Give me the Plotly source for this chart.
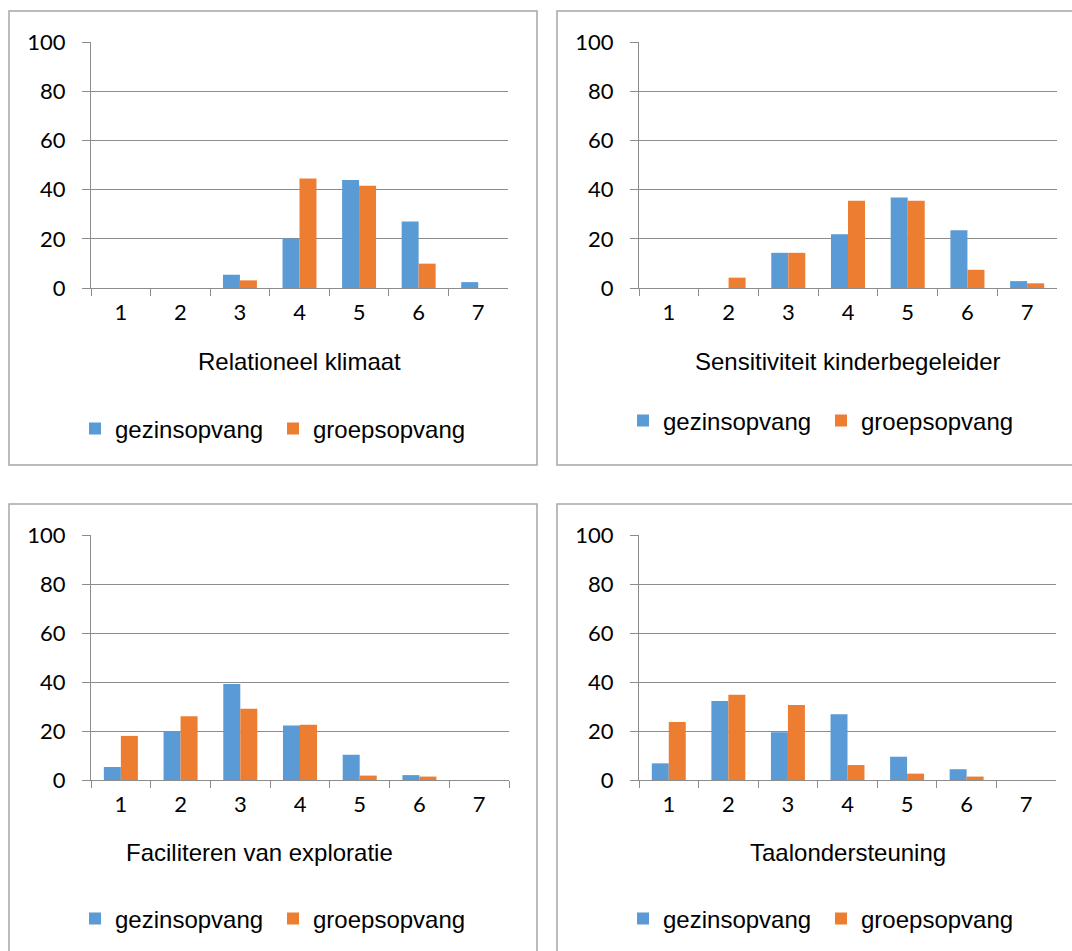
import plotly.graph_objects as go

# ---------------- data ----------------
categories = ["1", "2", "3", "4", "5", "6", "7"]
series_names = ["gezinsopvang", "groepsopvang"]
axis_titles = ["Relationeel klimaat", "Sensitiviteit kinderbegeleider",
               "Faciliteren van exploratie", "Taalondersteuning"]
y_ticks = [0, 20, 40, 60, 80, 100]

rel_gezin = [0, 0, 5.4, 20.1, 43.9, 27.0, 2.4]
rel_groep = [0, 0, 3.1, 44.5, 41.6, 9.9, 0]
sens_gezin = [0, 0, 14.3, 21.8, 36.8, 23.5, 2.8]
sens_groep = [0, 4.2, 14.3, 35.5, 35.5, 7.4, 1.9]
fac_gezin = [5.3, 20.0, 39.2, 22.2, 10.3, 2.0, 0]
fac_groep = [18.0, 26.0, 29.1, 22.6, 1.8, 1.4, 0]
taal_gezin = [6.8, 32.2, 19.5, 26.8, 9.5, 4.4, 0]
taal_groep = [23.7, 34.8, 30.6, 6.1, 2.6, 1.4, 0]

panel_values = [(rel_gezin, rel_groep), (sens_gezin, sens_groep),
                (fac_gezin, fac_groep), (taal_gezin, taal_groep)]

# ---------------- style / layout ----------------
W, H = 1072, 951
colors = ["#5B9BD5", "#ED7D31"]
grid = "#8C8C8C"
box_col = "#A6A6A6"
num_font = dict(family="Lato, sans-serif", size=22, color="#000000")
txt_font = dict(family="Liberation Sans, Arial, sans-serif", size=24, color="#000000")

panels = [
    dict(box=(9, 11, 537, 465), plot=(91, 508, 42, 288), title_y=361, title_x=0.5, leg_y=429, leg_x=75),
    dict(box=(557, 11, 1090, 465), plot=(639, 1057, 42, 288), title_y=361, title_x=0.5, leg_y=421, leg_x=623),
    dict(box=(9, 504, 537, 970), plot=(91, 509, 535, 780), title_y=852, title_x=0.403, leg_y=919, leg_x=75),
    dict(box=(557, 504, 1090, 970), plot=(639, 1056, 535, 780), title_y=852, title_x=0.5, leg_y=919, leg_x=623),
]

def px(x):
    return x / W

def py(y):
    return 1 - y / H

fig = go.Figure()
layout = dict(width=W, height=H, margin=dict(l=0, r=0, t=0, b=0, autoexpand=False),
              paper_bgcolor="white", plot_bgcolor="white",
              barmode="group", bargap=0.43, bargroupgap=0,
              showlegend=True, shapes=[], annotations=[])

for i, p in enumerate(panels):
    n = "" if i == 0 else str(i + 1)
    leg = "legend" + n
    for s in range(2):
        fig.add_trace(go.Bar(
            x=categories, y=panel_values[i][s], name=series_names[s],
            marker=dict(color=colors[s], line=dict(width=0)),
            xaxis="x" + n, yaxis="y" + n, legend=leg, hoverinfo="skip"))
    x0, x1, y0, y1 = p["plot"]
    layout["xaxis" + n] = dict(
        domain=[px(x0), px(x1)], anchor="y" + n, type="category",
        range=[-0.5, 6.5], showline=True, linecolor=grid, linewidth=1,
        ticks="outside", tickson="boundaries", ticklen=7, tickcolor=grid,
        tickwidth=1, showgrid=False, tickfont=num_font, ticklabelstandoff=5,
        automargin=False, fixedrange=True)
    layout["yaxis" + n] = dict(
        domain=[py(y1), py(y0)], anchor="x" + n, range=[0, 100],
        tickvals=y_ticks, showline=True, linecolor=grid, linewidth=1,
        ticks="outside", ticklen=8, tickcolor=grid, tickwidth=1,
        showgrid=True, gridcolor=grid, gridwidth=1, zeroline=False,
        tickfont=num_font, ticklabelstandoff=12, automargin=False,
        fixedrange=True)
    layout[leg] = dict(
        orientation="h", x=px(p["leg_x"]), xanchor="left",
        y=py(p["leg_y"]), yanchor="middle", font=txt_font,
        entrywidth=153, entrywidthmode="pixels", bgcolor="rgba(0,0,0,0)",
        traceorder="normal")
    bx0, by0, bx1, by1 = p["box"]
    layout["shapes"].append(dict(
        type="rect", xref="paper", yref="paper",
        x0=px(bx0), x1=px(bx1), y0=py(by1), y1=py(by0),
        line=dict(color=box_col, width=1.5), fillcolor="rgba(0,0,0,0)"))
    layout["annotations"].append(dict(
        text=axis_titles[i], xref="x" + n + " domain", x=p["title_x"],
        yref="paper", y=py(p["title_y"]), xanchor="center", yanchor="middle",
        showarrow=False, font=txt_font))

fig.update_layout(**layout)
fig.write_html(
    "out.html",
    config={"displayModeBar": False},
    post_script="document.body.style.margin='0';document.body.style.overflow='hidden';",
)
